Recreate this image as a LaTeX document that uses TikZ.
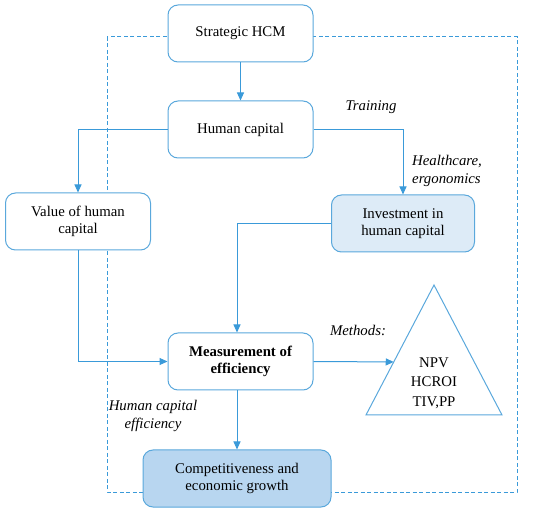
\documentclass[tikz,border=0pt]{standalone}
\usepackage{fontspec}
\setmainfont{Liberation Serif}
\newfontfamily\tnr{Liberation Serif}
\usetikzlibrary{arrows.meta,calc}
\definecolor{lineblue}{HTML}{3A9AD9}
\definecolor{boxblue}{HTML}{5AA8DC}
\definecolor{fillA}{HTML}{DDEBF7}
\definecolor{fillB}{HTML}{B8D6F0}
\begin{document}
\begin{tikzpicture}[x=1pt,y=-1pt,
  every node/.style={font=\tnr\fontsize{14.8}{17.5}\selectfont},
  box/.style={draw=boxblue,line width=1pt,rounded corners=10pt,fill=white,
    minimum width=145pt,minimum height=57pt,align=center,inner sep=2pt},
  conn/.style={draw=lineblue,line width=1pt},
  arr/.style={conn,-{Triangle[length=8pt,width=7pt]}},
  lbl/.style={font=\tnr\fontsize{14.8}{17.5}\selectfont\itshape,align=center,inner sep=0pt}
]
\useasboundingbox (0,0) rectangle (550,516);
% dashed frame
\draw[draw=lineblue,line width=1pt,dash pattern=on 4pt off 2.5pt] (107,37) rectangle (517,492);

\node[box] (strat) at (240.5,33.5) {Strategic HCM};
\node[box] (hc) at (240.5,129.5) {Human capital};
\node[box] (val) at (78,221.5) {Value of human\\capital};
\node[box,fill=fillA,minimum width=143pt] (inv) at (403,223.5) {Investment in\\human capital};
\node[box,font=\tnr\fontsize{14.8}{17.5}\selectfont\bfseries] (meas) at (240.5,361.5) {Measurement of\\efficiency};
\node[box,fill=fillB,minimum width=188pt] (comp) at (237,478.5) {Competitiveness and\\economic growth};

% triangle
\coordinate (tA) at (434,285);
\coordinate (tL) at (366,415);
\coordinate (tR) at (502,415);
\draw[draw=boxblue,line width=1pt] (tA) -- (tL) -- (tR) -- cycle;
\node[align=center,font=\tnr\fontsize{14.8}{19.5}\selectfont] (tt) at (434,383) {NPV\\HCROI\\TIV,PP};
\coordinate (tE) at ($(tA)!0.592!(tL)$);

% labels
\node[lbl] (ltr) at (371,107) {Training};
\node[lbl,align=left,anchor=west] (lhc) at (412,171) {Healthcare,\\ergonomics};
\node[lbl] (lme) at (358,330) {Methods:};
\node[lbl] (lhe) at (153,416) {Human capital\\efficiency};

% connectors
\draw[arr] (strat.south) -- (hc.north);
\draw[arr] (hc.west) -| (val.north);
\draw[arr] (hc.east) -| (inv.north);
\draw[arr] (inv.west) -| (comp.north |- meas.north);
\draw[arr] (val.south) |- (meas.west);
\draw[arr] (meas.east) -- (tE);
\draw[arr] (comp.north |- meas.south) -- (comp.north);
\end{tikzpicture}
\end{document}
